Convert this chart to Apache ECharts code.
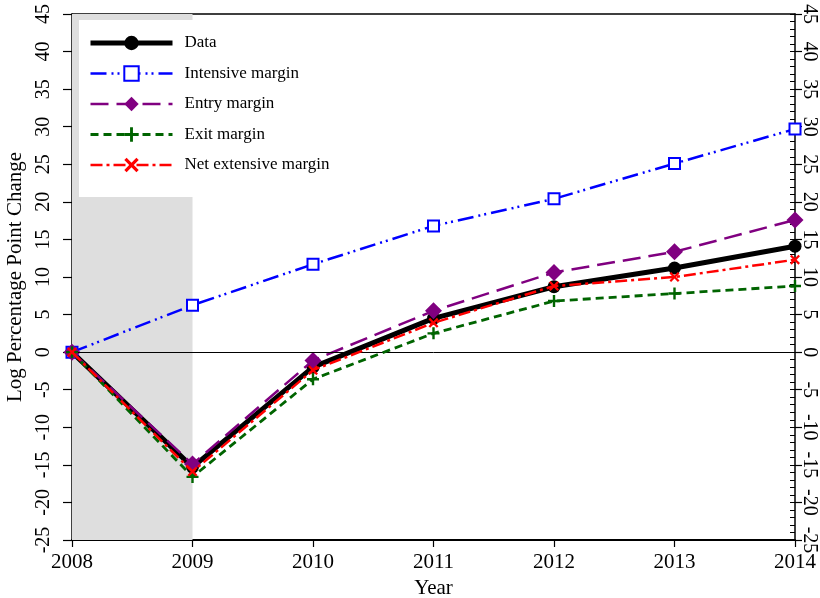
<!DOCTYPE html>
<html>
<head>
<meta charset="utf-8">
<script src="https://cdn.jsdelivr.net/npm/echarts@6/dist/echarts.min.js"></script>
<style>
  html, body { margin: 0; padding: 0; background: #fff; }
  #chart { width: 820px; height: 598px; }
</style>
</head>
<body>
<div id="chart"></div>
<script>
// Years on the horizontal axis
const years = ['2008', '2009', '2010', '2011', '2012', '2013', '2014'];

// Log percentage point change by component
const dataSeries      = [0, -15.3, -2.0, 4.5, 8.7, 11.2, 14.1];
const intensiveMargin = [0, 6.25, 11.7, 16.8, 20.4, 25.1, 29.7];
const entryMargin     = [0, -14.9, -1.1, 5.5, 10.6, 13.35, 17.6];
const exitMargin      = [0, -16.6, -3.6, 2.5, 6.8, 7.8, 8.8];
const netExtensive    = [0, -15.9, -2.4, 3.9, 8.8, 10.0, 12.3];

// Recession shading and y-axis range
const recession = ['2008', '2009'];
const yMin = -25, yMax = 45, yStep = 5;

const FONT = "'Liberation Serif', 'Times New Roman', serif";
const plusPath = 'path://M4,0H6V4H10V6H6V10H4V6H0V4H4Z';
const crossPath = 'path://M0,1.6L1.6,0L5,3.4L8.4,0L10,1.6L6.6,5L10,8.4L8.4,10L5,6.6L1.6,10L0,8.4L3.4,5Z';

const chart = echarts.init(document.getElementById('chart'), null, { renderer: 'canvas' });

const axisLine = { show: true, onZero: false, lineStyle: { color: '#000', width: 1.5 } };

const option = {
  animation: false,
  backgroundColor: '#fff',
  grid: { left: 72, right: 25, top: 14, bottom: 58, containLabel: false, outerBoundsMode: 'none' },
  legend: {
    orient: 'vertical',
    left: 79,
    top: 20,
    backgroundColor: '#fff',
    padding: [13, 28, 22, 9],
    itemWidth: 82,
    itemHeight: 18,
    itemGap: 10.5,
    textStyle: { fontFamily: FONT, fontSize: 17, color: '#000', lineHeight: 20, padding: [0, 0, 0, 7] },
    data: [
      { name: 'Data', lineStyle: { width: 5 } },
      { name: 'Intensive margin', lineStyle: { width: 2.5 } },
      { name: 'Entry margin', lineStyle: { width: 2.5 } },
      { name: 'Exit margin', lineStyle: { width: 2.8 } },
      { name: 'Net extensive margin', lineStyle: { width: 2.5 } }
    ]
  },
  xAxis: [
    {
      type: 'category',
      position: 'bottom',
      data: years,
      boundaryGap: false,
      name: 'Year',
      nameLocation: 'middle',
      nameGap: 36,
      nameTextStyle: { fontFamily: FONT, fontSize: 21, color: '#000' },
      axisLine: { show: true, onZero: false, lineStyle: { color: '#000', width: 2 } },
      axisTick: { show: true, inside: false, length: 7, alignWithLabel: true, interval: 0, lineStyle: { color: '#000', width: 1.2 } },
      axisLabel: { fontFamily: FONT, fontSize: 21, color: '#000', margin: 12, interval: 0 },
      splitLine: { show: false }
    },
    {
      type: 'category',
      position: 'top',
      data: years,
      boundaryGap: false,
      axisLine: axisLine,
      axisTick: { show: false },
      axisLabel: { show: false },
      splitLine: { show: false }
    }
  ],
  yAxis: [
    {
      type: 'value', position: 'left', min: yMin, max: yMax, interval: yStep,
      name: 'Log Percentage Point Change',
      nameLocation: 'middle',
      nameGap: 38,
      nameTextStyle: { fontFamily: FONT, fontSize: 21, color: '#000' },
      axisLine: axisLine,
      axisTick: { show: true, inside: false, length: 9, lineStyle: { color: '#000', width: 1.2 } },
      axisLabel: { fontFamily: FONT, fontSize: 20, color: '#000', rotate: 90, margin: 18 },
      splitLine: { show: false }
    },
    {
      type: 'value', position: 'left', min: yMin, max: yMax, interval: 1,
      axisLine: { show: false, onZero: false },
      axisTick: { show: true, inside: true, length: 5, lineStyle: { color: '#000', width: 1 } },
      axisLabel: { show: false },
      splitLine: { show: false }
    },
    {
      type: 'value', position: 'right', min: yMin, max: yMax, interval: yStep,
      axisLine: axisLine,
      axisTick: { show: true, inside: false, length: 7, lineStyle: { color: '#000', width: 1.2 } },
      axisLabel: { fontFamily: FONT, fontSize: 20, color: '#000', rotate: -90, margin: 4 },
      splitLine: { show: false }
    },
    {
      type: 'value', position: 'right', min: yMin, max: yMax, interval: 1,
      axisLine: { show: false, onZero: false },
      axisTick: { show: true, inside: true, length: 5, lineStyle: { color: '#000', width: 1 } },
      axisLabel: { show: false },
      splitLine: { show: false }
    }
  ],
  series: [
    {
      name: 'Data',
      type: 'line',
      data: dataSeries,
      symbol: 'circle',
      symbolSize: 13,
      lineStyle: { color: '#000', width: 5, type: 'solid' },
      itemStyle: { color: '#000' },
      z: 2,
      markArea: {
        silent: true,
        itemStyle: { color: '#dedede' },
        data: [[{ xAxis: recession[0] }, { xAxis: recession[1] }]]
      },
      markLine: {
        silent: true,
        symbol: 'none',
        label: { show: false },
        lineStyle: { color: '#000', width: 1, type: 'solid' },
        data: [{ yAxis: 0 }]
      }
    },
    {
      name: 'Intensive margin',
      type: 'line',
      data: intensiveMargin,
      symbol: 'rect',
      symbolSize: 11,
      lineStyle: { color: '#0000ff', width: 2.5, type: [16, 5, 2, 4, 2, 5] },
      itemStyle: { color: '#fff', borderColor: '#0000ff', borderWidth: 2 },
      z: 3
    },
    {
      name: 'Entry margin',
      type: 'line',
      data: entryMargin,
      symbol: 'diamond',
      symbolSize: 17,
      lineStyle: { color: '#800080', width: 2.5, type: [18, 8] },
      itemStyle: { color: '#800080' },
      z: 4
    },
    {
      name: 'Exit margin',
      type: 'line',
      data: exitMargin,
      symbol: plusPath,
      symbolSize: 12,
      lineStyle: { color: '#006400', width: 2.8, type: [8, 5] },
      itemStyle: { color: '#006400' },
      z: 5
    },
    {
      name: 'Net extensive margin',
      type: 'line',
      data: netExtensive,
      symbol: crossPath,
      symbolSize: 10,
      lineStyle: { color: '#ff0000', width: 2.5, type: [12, 4, 3, 4] },
      itemStyle: { color: '#ff0000' },
      z: 6
    }
  ]
};

chart.setOption(option);
</script>
</body>
</html>
